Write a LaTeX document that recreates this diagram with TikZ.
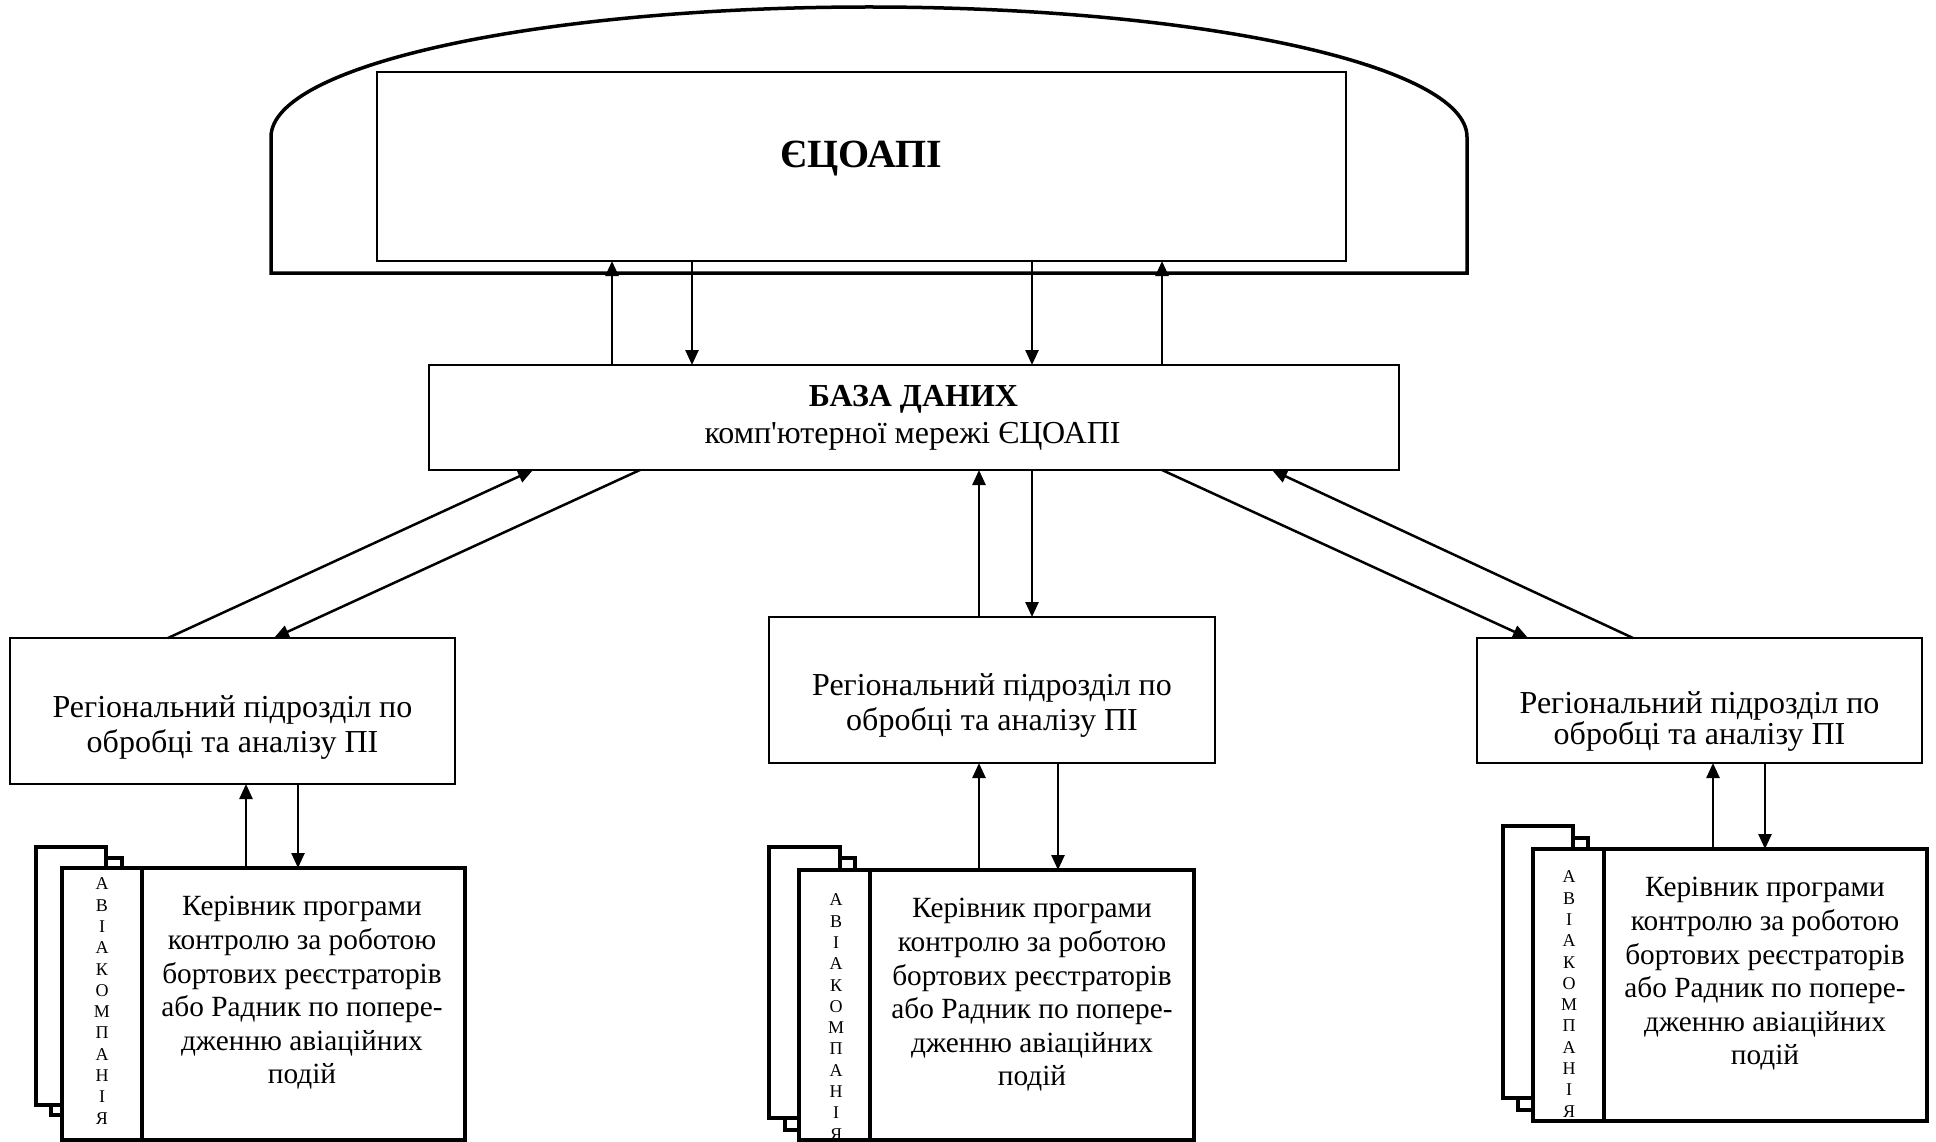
\documentclass[tikz,border=0pt]{standalone}
\usepackage{fontspec}
\setmainfont{Liberation Serif}[Ligatures=TeXOff]
\usetikzlibrary{arrows.meta}
\newcommand\fsz[2]{\fontsize{#1}{#2}\selectfont}

\begin{document}
\begin{tikzpicture}[x=1pt,y=-1pt,
  every node/.style={inner sep=0pt, outer sep=0pt},
  dome/.style={line width=3.5pt, line join=miter},
  thinbox/.style={draw, rectangle, line width=2pt},
  regbox/.style={draw, rectangle, line width=2.8pt},
  cbox/.style={draw, rectangle, line width=3.5pt, fill=white},
  sheet/.style={draw, line width=3.5pt, fill=white},
  arr/.style={line width=2.5pt, -{Triangle[length=15pt,width=13pt]}},
  regtext/.style={align=center, font=\fsz{32}{35}},
  ctext/.style={align=center, font=\fsz{29.3}{33.6}},
  letters/.style={align=center, font=\fsz{18}{21.3}}
]
\useasboundingbox (0,0) rectangle (1936,1142);

% ---- top: the centre inside its dome ----
\draw[dome] (271,273) -- (271,137)
  arc[start angle=180, end angle=0, x radius=598pt, y radius=130pt]
  -- (1467,273) -- cycle;
\node[thinbox, minimum width=969pt, minimum height=189pt] (cen) at (861.5,166.5) {};
\node[anchor=base, font=\fsz{40}{40}\bfseries] (centxt) at (861,168) {ЄЦОАПІ};

% ---- database ----
\node[thinbox, minimum width=970pt, minimum height=105pt] (db) at (914,417.5) {};
\node[anchor=base, font=\fsz{32}{32}\bfseries] (dbt1) at (913.5,406) {БАЗА ДАНИХ};
\node[anchor=base, font=\fsz{32}{32}] (dbt2) at (912.5,443) {комп'ютерної мережі ЄЦОАПІ};

% ---- regional units ----
\node[regbox, minimum width=445pt, minimum height=146pt] (regL) at (232.5,711) {};
\node[regtext] (regLt) at (232.5,727) {Регіональний підрозділ по\\обробці та аналізу ПІ};
\node[regbox, minimum width=446pt, minimum height=146pt] (regM) at (992,690) {};
\node[regtext] (regMt) at (992,705.5) {Регіональний підрозділ по\\обробці та аналізу ПІ};
\node[regbox, minimum width=445pt, minimum height=125pt] (regR) at (1699.5,700.5) {};
\node[regtext, font=\fsz{32}{31}] (regRt) at (1699.5,721.5) {Регіональний підрозділ по\\обробці та аналізу ПІ};

% ---- airline stacks ----
% left
\draw[sheet] (51,858) rectangle (122,1115);
\draw[sheet] (36,847) rectangle (106,1105);
\node[cbox, minimum width=80pt, minimum height=272pt] (airL) at (102,1004) {};
\node[cbox, minimum width=323pt, minimum height=272pt] (mgrL) at (303.5,1004) {};
\node[letters] (airLt) at (102,1001) {А\\В\\І\\А\\К\\О\\М\\П\\А\\Н\\І\\Я};
\node[ctext] (mgrLt) at (302,993) {Керівник програми\\контролю за роботою\\бортових реєстраторів\\або Радник по попере-\\дженню авіаційних\\подій};
% middle
\draw[sheet] (785,858) rectangle (855,1130);
\draw[sheet] (769,847) rectangle (840,1118);
\node[cbox, minimum width=71pt, minimum height=270pt] (airM) at (834.5,1005) {};
\node[cbox, minimum width=324pt, minimum height=270pt] (mgrM) at (1032,1005) {};
\node[letters] (airMt) at (836,1017) {А\\В\\І\\А\\К\\О\\М\\П\\А\\Н\\І\\Я};
\node[ctext] (mgrMt) at (1032,995) {Керівник програми\\контролю за роботою\\бортових реєстраторів\\або Радник по попере-\\дженню авіаційних\\подій};
% right
\draw[sheet] (1518,838) rectangle (1588,1110);
\draw[sheet] (1503,826) rectangle (1573,1098);
\node[cbox, minimum width=71pt, minimum height=272pt] (airR) at (1568.5,985) {};
\node[cbox, minimum width=323pt, minimum height=272pt] (mgrR) at (1765.5,985) {};
\node[letters] (airRt) at (1569,994) {А\\В\\І\\А\\К\\О\\М\\П\\А\\Н\\І\\Я};
\node[ctext] (mgrRt) at (1765,974) {Керівник програми\\контролю за роботою\\бортових реєстраторів\\або Радник по попере-\\дженню авіаційних\\подій};

% ---- connectors: database <-> centre ----
\draw[arr] (612,0 |- db.north) -- (612,0 |- cen.south);
\draw[arr] (692,0 |- cen.south) -- (692,0 |- db.north);
\draw[arr] (1032,0 |- cen.south) -- (1032,0 |- db.north);
\draw[arr] (1162,0 |- db.north) -- (1162,0 |- cen.south);

% ---- connectors: regional units <-> database ----
\draw[arr] (168,0 |- regL.north) -- (533,0 |- db.south);
\draw[arr] (640,0 |- db.south) -- (274,0 |- regL.north);
\draw[arr] (979,0 |- regM.north) -- (979,0 |- db.south);
\draw[arr] (1032,0 |- db.south) -- (1032,0 |- regM.north);
\draw[arr] (1162,0 |- db.south) -- (1528,0 |- regR.north);
\draw[arr] (1633,0 |- regR.north) -- (1272,0 |- db.south);

% ---- connectors: airlines <-> regional units ----
\draw[arr] (246,0 |- mgrL.north) -- (246,0 |- regL.south);
\draw[arr] (298,0 |- regL.south) -- (298,0 |- mgrL.north);
\draw[arr] (979,0 |- mgrM.north) -- (979,0 |- regM.south);
\draw[arr] (1058,0 |- regM.south) -- (1058,0 |- mgrM.north);
\draw[arr] (1713,0 |- mgrR.north) -- (1713,0 |- regR.south);
\draw[arr] (1765,0 |- regR.south) -- (1765,0 |- mgrR.north);
\end{tikzpicture}
\end{document}
